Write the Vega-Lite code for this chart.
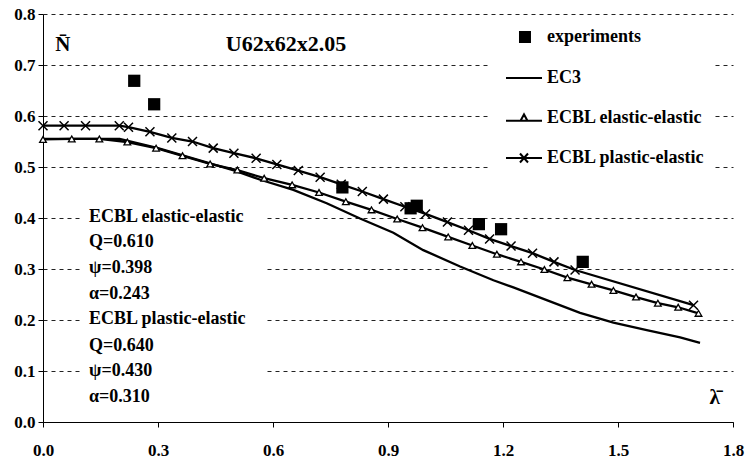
{
  "$schema": "https://vega.github.io/schema/vega-lite/v6.json",
  "width": 690,
  "height": 408,
  "autosize": "none",
  "padding": {"left": 43, "top": 14, "right": 13, "bottom": 39},
  "background": "white",
  "config": {"view": {"stroke": null}, "font": "'Liberation Serif', 'Times New Roman', Tinos, 'DejaVu Serif', serif"},
  "datasets": {
    "curves": [
      {"series": "EC3", "x": 0, "y": 0.555},
      {"series": "EC3", "x": 0.2, "y": 0.555},
      {"series": "EC3", "x": 0.3, "y": 0.537},
      {"series": "EC3", "x": 0.4, "y": 0.515},
      {"series": "EC3", "x": 0.5, "y": 0.493},
      {"series": "EC3", "x": 0.567, "y": 0.475},
      {"series": "EC3", "x": 0.653, "y": 0.455},
      {"series": "EC3", "x": 0.74, "y": 0.429},
      {"series": "EC3", "x": 0.827, "y": 0.399},
      {"series": "EC3", "x": 0.914, "y": 0.371},
      {"series": "EC3", "x": 0.992, "y": 0.337},
      {"series": "EC3", "x": 1.088, "y": 0.305},
      {"series": "EC3", "x": 1.175, "y": 0.278},
      {"series": "EC3", "x": 1.227, "y": 0.264},
      {"series": "EC3", "x": 1.314, "y": 0.239},
      {"series": "EC3", "x": 1.401, "y": 0.214},
      {"series": "EC3", "x": 1.488, "y": 0.195},
      {"series": "EC3", "x": 1.575, "y": 0.18},
      {"series": "EC3", "x": 1.662, "y": 0.166},
      {"series": "EC3", "x": 1.714, "y": 0.155},
      {"series": "ECBL elastic-elastic", "x": 0, "y": 0.554},
      {"series": "ECBL elastic-elastic", "x": 0.075, "y": 0.555},
      {"series": "ECBL elastic-elastic", "x": 0.147, "y": 0.555},
      {"series": "ECBL elastic-elastic", "x": 0.22, "y": 0.549},
      {"series": "ECBL elastic-elastic", "x": 0.295, "y": 0.537},
      {"series": "ECBL elastic-elastic", "x": 0.364, "y": 0.522},
      {"series": "ECBL elastic-elastic", "x": 0.436, "y": 0.506},
      {"series": "ECBL elastic-elastic", "x": 0.507, "y": 0.494},
      {"series": "ECBL elastic-elastic", "x": 0.577, "y": 0.478},
      {"series": "ECBL elastic-elastic", "x": 0.65, "y": 0.465},
      {"series": "ECBL elastic-elastic", "x": 0.72, "y": 0.45},
      {"series": "ECBL elastic-elastic", "x": 0.79, "y": 0.432},
      {"series": "ECBL elastic-elastic", "x": 0.857, "y": 0.416},
      {"series": "ECBL elastic-elastic", "x": 0.924, "y": 0.398},
      {"series": "ECBL elastic-elastic", "x": 0.99, "y": 0.381},
      {"series": "ECBL elastic-elastic", "x": 1.057, "y": 0.363},
      {"series": "ECBL elastic-elastic", "x": 1.12, "y": 0.346},
      {"series": "ECBL elastic-elastic", "x": 1.184, "y": 0.329},
      {"series": "ECBL elastic-elastic", "x": 1.247, "y": 0.314},
      {"series": "ECBL elastic-elastic", "x": 1.308, "y": 0.299},
      {"series": "ECBL elastic-elastic", "x": 1.368, "y": 0.283},
      {"series": "ECBL elastic-elastic", "x": 1.431, "y": 0.27},
      {"series": "ECBL elastic-elastic", "x": 1.488, "y": 0.258},
      {"series": "ECBL elastic-elastic", "x": 1.547, "y": 0.245},
      {"series": "ECBL elastic-elastic", "x": 1.604, "y": 0.233},
      {"series": "ECBL elastic-elastic", "x": 1.657, "y": 0.225},
      {"series": "ECBL elastic-elastic", "x": 1.71, "y": 0.213},
      {"series": "ECBL plastic-elastic", "x": 0, "y": 0.581},
      {"series": "ECBL plastic-elastic", "x": 0.055, "y": 0.581},
      {"series": "ECBL plastic-elastic", "x": 0.111, "y": 0.581},
      {"series": "ECBL plastic-elastic", "x": 0.199, "y": 0.581},
      {"series": "ECBL plastic-elastic", "x": 0.223, "y": 0.578},
      {"series": "ECBL plastic-elastic", "x": 0.279, "y": 0.569},
      {"series": "ECBL plastic-elastic", "x": 0.336, "y": 0.557},
      {"series": "ECBL plastic-elastic", "x": 0.39, "y": 0.55},
      {"series": "ECBL plastic-elastic", "x": 0.444, "y": 0.537},
      {"series": "ECBL plastic-elastic", "x": 0.498, "y": 0.527},
      {"series": "ECBL plastic-elastic", "x": 0.556, "y": 0.517},
      {"series": "ECBL plastic-elastic", "x": 0.61, "y": 0.505},
      {"series": "ECBL plastic-elastic", "x": 0.666, "y": 0.493},
      {"series": "ECBL plastic-elastic", "x": 0.723, "y": 0.48},
      {"series": "ECBL plastic-elastic", "x": 0.778, "y": 0.466},
      {"series": "ECBL plastic-elastic", "x": 0.833, "y": 0.452},
      {"series": "ECBL plastic-elastic", "x": 0.888, "y": 0.437},
      {"series": "ECBL plastic-elastic", "x": 0.944, "y": 0.422},
      {"series": "ECBL plastic-elastic", "x": 0.998, "y": 0.408},
      {"series": "ECBL plastic-elastic", "x": 1.055, "y": 0.392},
      {"series": "ECBL plastic-elastic", "x": 1.11, "y": 0.376},
      {"series": "ECBL plastic-elastic", "x": 1.165, "y": 0.359},
      {"series": "ECBL plastic-elastic", "x": 1.221, "y": 0.345},
      {"series": "ECBL plastic-elastic", "x": 1.277, "y": 0.331},
      {"series": "ECBL plastic-elastic", "x": 1.333, "y": 0.314},
      {"series": "ECBL plastic-elastic", "x": 1.388, "y": 0.298},
      {"series": "ECBL plastic-elastic", "x": 1.697, "y": 0.229}
    ],
    "experiments": [
      {"series": "experiments", "x": 0.238, "y": 0.669},
      {"series": "experiments", "x": 0.29, "y": 0.623},
      {"series": "experiments", "x": 0.781, "y": 0.46},
      {"series": "experiments", "x": 0.959, "y": 0.419},
      {"series": "experiments", "x": 0.975, "y": 0.424},
      {"series": "experiments", "x": 1.137, "y": 0.388},
      {"series": "experiments", "x": 1.195, "y": 0.378},
      {"series": "experiments", "x": 1.408, "y": 0.314}
    ],
    "notes": [
      {"text": "ECBL elastic-elastic", "x": 0.12, "y": 0.402},
      {"text": "Q=0.610", "x": 0.12, "y": 0.352},
      {"text": "ψ=0.398", "x": 0.12, "y": 0.301},
      {"text": "α=0.243", "x": 0.12, "y": 0.251},
      {"text": "ECBL plastic-elastic", "x": 0.12, "y": 0.201},
      {"text": "Q=0.640", "x": 0.12, "y": 0.15},
      {"text": "ψ=0.430", "x": 0.12, "y": 0.1},
      {"text": "α=0.310", "x": 0.12, "y": 0.049}
    ],
    "notebox": [{"x": 0.1, "x2": 0.58, "y": 0.03, "y2": 0.43}],
    "title": [{"text": "U62x62x2.05", "x": 0.634, "y": 0.742}],
    "axislabels": [
      {"text": "N\u0304", "x": 0.052, "y": 0.739},
      {"text": "λ\u0304", "x": 1.752, "y": 0.047}
    ]
  },
  "encoding": {
    "x": {
      "field": "x", "type": "quantitative",
      "scale": {"domain": [0, 1.8], "nice": false, "zero": false},
      "axis": {
        "title": null, "values": [0, 0.3, 0.6, 0.9, 1.2, 1.5, 1.8], "format": ".1f",
        "grid": false, "domainColor": "black", "domainWidth": 1, "tickColor": "black", "tickSize": 5,
        "labelFontSize": 17, "labelFontWeight": "bold", "labelColor": "black",
        "labelPadding": 15, "labelFlush": false
      }
    },
    "y": {
      "field": "y", "type": "quantitative",
      "scale": {"domain": [0, 0.8], "nice": false},
      "axis": {
        "title": null, "values": [0, 0.1, 0.2, 0.3, 0.4, 0.5, 0.6, 0.7, 0.8], "format": ".1f",
        "grid": true, "gridColor": "#222", "gridDash": [4, 4], "gridWidth": 1,
        "domainColor": "black", "domainWidth": 1, "tickColor": "black", "tickSize": 5,
        "labelFontSize": 17, "labelFontWeight": "bold", "labelColor": "black",
        "labelPadding": 3
      }
    }
  },
  "layer": [
    {
      "data": {"name": "notebox"},
      "mark": {"type": "rect", "fill": "white"},
      "encoding": {"x2": {"field": "x2"}, "y2": {"field": "y2"}}
    },
    {
      "data": {"name": "curves"},
      "mark": {"type": "line", "color": "black", "strokeWidth": 2.3},
      "encoding": {"detail": {"field": "series", "type": "nominal"}}
    },
    {
      "data": {"name": "curves"},
      "transform": [{"filter": "datum.series === 'ECBL elastic-elastic'"}],
      "mark": {"type": "point", "shape": "triangle-up", "filled": true, "fill": "white", "stroke": "black", "strokeWidth": 1.3, "size": 45, "opacity": 1}
    },
    {
      "data": {"name": "curves"},
      "transform": [{"filter": "datum.series === 'ECBL plastic-elastic'"}],
      "mark": {"type": "point", "shape": "M-1,-1L1,1M-1,1L1,-1", "filled": false, "stroke": "black", "strokeWidth": 1.5, "size": 81, "opacity": 1}
    },
    {
      "data": {"name": "experiments"},
      "mark": {"type": "point", "shape": "square", "filled": true, "color": "black", "size": 150, "opacity": 1}
    },
    {
      "data": {"name": "curves"},
      "mark": {"type": "point", "filled": true, "stroke": "black", "strokeWidth": 2, "opacity": 0},
      "encoding": {
        "shape": {
          "field": "series", "type": "nominal",
          "scale": {
            "domain": ["experiments", "EC3", "ECBL elastic-elastic", "ECBL plastic-elastic"],
            "range": [
              "M1.11,-0.556H2.22V0.556H1.11Z",
              "M-0.444,0H3.556",
              "M-0.444,0.3H1.17M1.94,0.3H3.556M1.17,0.3L1.556,-0.4L1.94,0.3Z",
              "M-0.444,0H3.556M1.11,-0.5L2.0,0.5M1.11,0.5L2.0,-0.5"
            ]
          },
          "legend": {
            "orient": "none", "legendX": 447, "legendY": 3, "title": null,
            "fillColor": "white", "padding": 10,
            "symbolSize": 324, "symbolStrokeWidth": 2, "symbolStrokeColor": "black", "symbolOpacity": 1,
            "labelFontSize": 18, "labelFontWeight": "bold", "labelColor": "black",
            "labelOffset": 27, "rowPadding": 21, "labelLimit": 400,
            "encode": {"symbols": {"update": {"stroke": {"value": "black"}, "strokeWidth": {"value": 2}, "opacity": {"value": 1}}}}
          }
        },
        "fill": {
          "field": "series", "type": "nominal",
          "scale": {
            "domain": ["experiments", "EC3", "ECBL elastic-elastic", "ECBL plastic-elastic"],
            "range": ["black", "white", "white", "white"]
          },
          "legend": {
            "orient": "none", "legendX": 447, "legendY": 3, "title": null,
            "fillColor": "white", "padding": 10,
            "symbolSize": 324, "symbolStrokeWidth": 2, "symbolStrokeColor": "black", "symbolOpacity": 1,
            "labelFontSize": 18, "labelFontWeight": "bold", "labelColor": "black",
            "labelOffset": 27, "rowPadding": 21, "labelLimit": 400,
            "encode": {"symbols": {"update": {"stroke": {"value": "black"}, "strokeWidth": {"value": 2}, "opacity": {"value": 1}}}}
          }
        }
      }
    },
    {
      "data": {"name": "notes"},
      "mark": {"type": "text", "align": "left", "baseline": "middle", "fontSize": 18, "fontWeight": "bold", "color": "black"},
      "encoding": {"text": {"field": "text"}}
    },
    {
      "data": {"name": "title"},
      "mark": {"type": "text", "align": "center", "baseline": "middle", "fontSize": 22, "fontWeight": "bold", "color": "black"},
      "encoding": {"text": {"field": "text"}}
    },
    {
      "data": {"name": "axislabels"},
      "mark": {"type": "text", "align": "center", "baseline": "middle", "fontSize": 21, "fontWeight": "bold", "color": "black"},
      "encoding": {"text": {"field": "text"}}
    }
  ]
}
